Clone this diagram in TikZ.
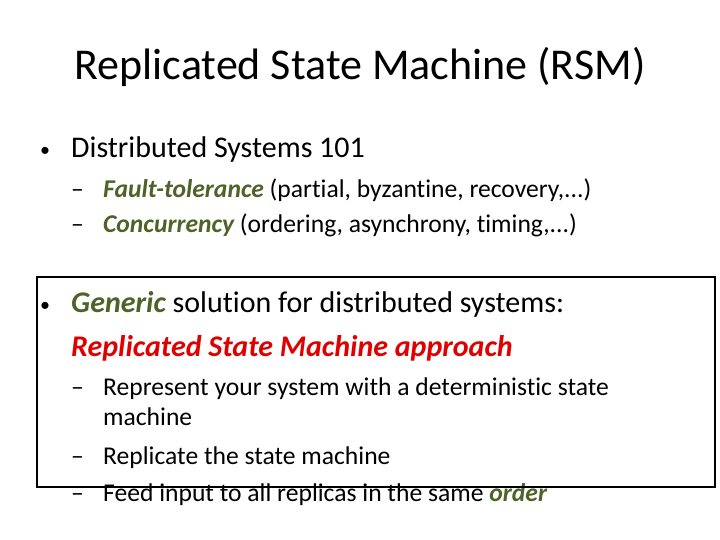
\documentclass[tikz,border=0pt]{standalone}
\usepackage{fontspec}
\setmainfont{Carlito}[Ligatures=NoCommon]
\definecolor{grn}{HTML}{4F6228}
\definecolor{rd}{HTML}{E00000}
\begin{document}
\begin{tikzpicture}[x=1pt,y=-1pt,
  t/.style={anchor=base west,inner sep=0pt},
  bul/.style={t,font=\fontsize{20}{24}\selectfont},
  l1/.style={t,font=\fontsize{30}{36}\selectfont},
  l2/.style={t,font=\fontsize{25.6}{30}\selectfont}]
\useasboundingbox (0,0) rectangle (720,540);
\node[t,font=\fontsize{44}{50}\selectfont,anchor=base] (title) at (360,80) {Replicated State Machine (RSM)};
\node[bul] (b1) at (40,157) {•};
\node[l1] (t1) at (71,158) {Distributed Systems 101};
\node[l2] (d1) at (71,197) {–};
\node[l2] (s1) at (103,197) {\textcolor{grn}{\bfseries\itshape Fault-tolerance} (partial, byzantine, recovery,...)};
\node[l2] (d2) at (71,233) {–};
\node[l2] (s2) at (103,233) {\textcolor{grn}{\bfseries\itshape Concurrency} (ordering, asynchrony, timing,...)};
\node[bul] (b2) at (40,311) {•};
\node[l1] (t2) at (71,312) {\textcolor{grn}{\bfseries\itshape Generic} solution for distributed systems:};
\node[l1] (t3) at (71,356) {\textcolor{rd}{\bfseries\itshape Replicated State Machine approach}};
\node[l2] (d3) at (71,395) {–};
\node[l2] (s3) at (103,395) {Represent your system with a deterministic state};
\node[l2] (s3b) at (103,425) {machine};
\node[l2] (d4) at (71,464) {–};
\node[l2] (s4) at (103,464) {Replicate the state machine};
\node[l2] (d5) at (71,501) {–};
\node[l2] (s5) at (103,501) {Feed input to all replicas in the same \textcolor{grn}{\bfseries\itshape order}};
\draw[line width=2pt] (37,277) rectangle (715,487);
\end{tikzpicture}
\end{document}
